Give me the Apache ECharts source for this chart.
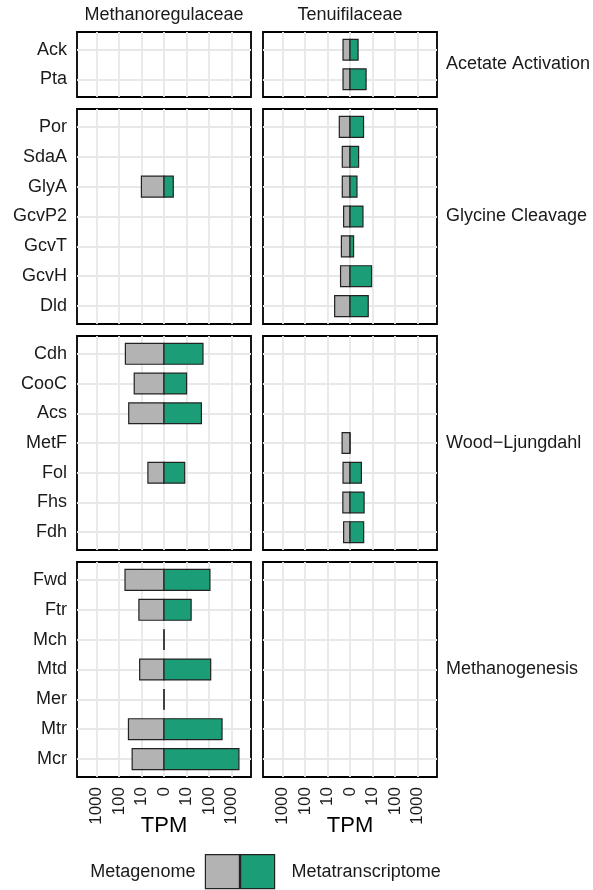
<!DOCTYPE html>
<html>
<head>
<meta charset="utf-8">
<title>Pathway gene expression (TPM)</title>
<script src="https://cdn.jsdelivr.net/npm/echarts@6/dist/echarts.min.js"></script>
<style>
  html, body { margin: 0; padding: 0; background: #ffffff; }
  #chart { width: 593px; height: 890px; }
</style>
</head>
<body>
<div id="chart"></div>
<script>
// Taxa (facet columns) and pathways (facet rows)
const taxa = ['Methanoregulaceae', 'Tenuifilaceae'];
const pathways = ['Acetate Activation', 'Glycine Cleavage', 'Wood\u2212Ljungdahl', 'Methanogenesis'];

// Genes of each pathway, top to bottom
const acetateGenes = ['Ack', 'Pta'];
const glycineGenes = ['Por', 'SdaA', 'GlyA', 'GcvP2', 'GcvT', 'GcvH', 'Dld'];
const woodGenes = ['Cdh', 'CooC', 'Acs', 'MetF', 'Fol', 'Fhs', 'Fdh'];
const methanoGenes = ['Fwd', 'Ftr', 'Mch', 'Mtd', 'Mer', 'Mtr', 'Mcr'];

// TPM per gene (null = gene not detected), same order as the gene lists above
const mregAcetateGenome = [null, null];
const mregAcetateTranscriptome = [null, null];
const mregGlycineGenome = [null, null, 10, null, null, null, null];
const mregGlycineTranscriptome = [null, null, 2.2, null, null, null, null];
const mregWoodGenome = [52, 21, 37, null, 5, null, null];
const mregWoodTranscriptome = [54, 10, 46, null, 8.2, null, null];
const mregMethanoGenome = [54, 13, 0, 12, 0, 38, 26];
const mregMethanoTranscriptome = [110, 16, 0, 119, 0, 380, 2140];

const tenuAcetateGenome = [1.55, 1.55];
const tenuAcetateTranscriptome = [1.85, 5.0];
const tenuGlycineGenome = [2.65, 1.75, 1.75, 1.4, 2.0, 2.25, 4.6];
const tenuGlycineTranscriptome = [3.75, 2.0, 1.55, 3.5, 0.75, 9.0, 6.3];
const tenuWoodGenome = [null, null, null, 1.8, 1.55, 1.6, 1.4];
const tenuWoodTranscriptome = [null, null, null, 0, 2.9, 4.0, 3.8];
const tenuMethanoGenome = [null, null, null, null, null, null, null];
const tenuMethanoTranscriptome = [null, null, null, null, null, null, null];

// TPM axis breaks (metagenome drawn to the left, metatranscriptome to the right)
const tpmTicks = [-1000, -100, -10, 0, 10, 100, 1000];

// Pseudo-log (base 10) transform used for the TPM axis
const toAxis = v => Math.asinh(v / 2) / Math.LN10;
const fromAxis = u => 2 * Math.sinh(u * Math.LN10);

const geneRows = [acetateGenes, glycineGenes, woodGenes, methanoGenes];
const genomeVals = [
  [mregAcetateGenome, mregGlycineGenome, mregWoodGenome, mregMethanoGenome],
  [tenuAcetateGenome, tenuGlycineGenome, tenuWoodGenome, tenuMethanoGenome]
];
const transcriptomeVals = [
  [mregAcetateTranscriptome, mregGlycineTranscriptome, mregWoodTranscriptome, mregMethanoTranscriptome],
  [tenuAcetateTranscriptome, tenuGlycineTranscriptome, tenuWoodTranscriptome, tenuMethanoTranscriptome]
];

const FONT = '"Liberation Sans", Arial, Helvetica, sans-serif';
const TEXT = '#1a1a1a';
const GREY = '#b3b3b3';
const GREEN = '#1b9e77';
const OUTLINE = '#222222';
const GRIDLINE = '#e8e8e8';

// Panel layout
const cols = [{ left: 77, width: 174 }, { left: 263, width: 174 }];
const rows = [
  { top: 32, height: 65 },
  { top: 109, height: 215 },
  { top: 336, height: 214 },
  { top: 562, height: 215 }
];
const X_LIMIT = 3.867;
const BAR_HALF = 0.35;

const xTickPos = tpmTicks.map(toAxis);

function renderBar(params, api) {
  const u = api.value(0);
  const idx = api.value(1);
  const p0 = api.coord([0, idx - BAR_HALF]);
  const p1 = api.coord([u, idx + BAR_HALF]);
  return {
    type: 'rect',
    shape: {
      x: Math.min(p0[0], p1[0]),
      y: Math.min(p0[1], p1[1]),
      width: Math.abs(p1[0] - p0[0]),
      height: Math.abs(p1[1] - p0[1])
    },
    style: api.style()
  };
}

const grids = [], xAxes = [], yAxes = [], series = [];
let gi = 0;
rows.forEach((row, r) => {
  const genes = geneRows[r];
  const catIdx = genes.map((g, i) => i);
  cols.forEach((col, c) => {
    grids.push({
      left: col.left, width: col.width, top: row.top, height: row.height,
      show: true, borderColor: '#000', borderWidth: 1.8, backgroundColor: '#fff',
      outerBoundsMode: 'none', containLabel: false
    });
    const bottomRow = r === rows.length - 1;
    xAxes.push({
      type: 'value', gridIndex: gi, min: -X_LIMIT, max: X_LIMIT,
      axisLine: { show: false },
      axisTick: { show: false, customValues: xTickPos },
      splitLine: { show: true, lineStyle: { color: GRIDLINE, width: 1.8 } },
      axisLabel: {
        show: bottomRow, customValues: xTickPos, rotate: 90, margin: 10,
        fontFamily: FONT, fontSize: 17, color: TEXT,
        formatter: v => String(Math.round(Math.abs(fromAxis(v))))
      }
    });
    yAxes.push({
      type: 'value', gridIndex: gi, inverse: true,
      min: -0.6, max: genes.length - 0.4,
      axisLine: { show: false },
      axisTick: { show: false, customValues: catIdx },
      splitLine: { show: true, lineStyle: { color: GRIDLINE, width: 1.8 } },
      axisLabel: {
        show: c === 0, customValues: catIdx, margin: 10,
        fontFamily: FONT, fontSize: 18, color: TEXT,
        formatter: v => genes[Math.round(v)]
      }
    });
    const gData = [], tData = [];
    genes.forEach((g, i) => {
      const gv = genomeVals[c][r][i];
      const tv = transcriptomeVals[c][r][i];
      if (gv !== null) gData.push([-toAxis(gv), i, gv]);
      if (tv !== null) tData.push([toAxis(tv), i, tv]);
    });
    series.push({
      type: 'custom', name: 'Metagenome', xAxisIndex: gi, yAxisIndex: gi,
      renderItem: renderBar, encode: { x: 0, y: 1 }, data: gData,
      itemStyle: { color: GREY, borderColor: OUTLINE, borderWidth: 1.2 },
      silent: true, clip: false
    });
    series.push({
      type: 'custom', name: 'Metatranscriptome', xAxisIndex: gi, yAxisIndex: gi,
      renderItem: renderBar, encode: { x: 0, y: 1 }, data: tData,
      itemStyle: { color: GREEN, borderColor: OUTLINE, borderWidth: 1.2 },
      silent: true, clip: false
    });
    gi++;
  });
});

// Facet strip labels and axis titles
const graphics = [];
taxa.forEach((t, c) => {
  graphics.push({
    type: 'text',
    x: cols[c].left + cols[c].width / 2, y: 15,
    style: { text: t, font: '18px ' + FONT, fill: TEXT, align: 'center', verticalAlign: 'middle' }
  });
  graphics.push({
    type: 'text',
    x: cols[c].left + cols[c].width / 2, y: 826,
    style: { text: 'TPM', font: '22px ' + FONT, fill: '#000', align: 'center', verticalAlign: 'middle' }
  });
});
pathways.forEach((p, r) => {
  graphics.push({
    type: 'text',
    x: 446, y: rows[r].top + rows[r].height / 2,
    style: { text: p, font: '18px ' + FONT, fill: TEXT, align: 'left', verticalAlign: 'middle' }
  });
});

const legendCommon = {
  top: 854, padding: 0, itemWidth: 34, itemHeight: 34, icon: 'rect', selectedMode: false,
  itemStyle: { borderColor: OUTLINE, borderWidth: 1.2 },
  textStyle: { fontFamily: FONT, fontSize: 18, color: TEXT }
};

const chart = echarts.init(document.getElementById('chart'), null, { renderer: 'canvas' });
chart.setOption({
  backgroundColor: '#ffffff',
  animation: false,
  grid: grids,
  xAxis: xAxes,
  yAxis: yAxes,
  series: series,
  legend: [
    Object.assign({}, legendCommon, {
      data: ['Metagenome'], align: 'right', right: 593 - 240,
      textStyle: Object.assign({}, legendCommon.textStyle, { padding: [0, 5, 0, 0] })
    }),
    Object.assign({}, legendCommon, {
      data: ['Metatranscriptome'], align: 'left', left: 240,
      textStyle: Object.assign({}, legendCommon.textStyle, { padding: [0, 0, 0, 12] })
    })
  ],
  graphic: graphics
});
</script>
</body>
</html>
